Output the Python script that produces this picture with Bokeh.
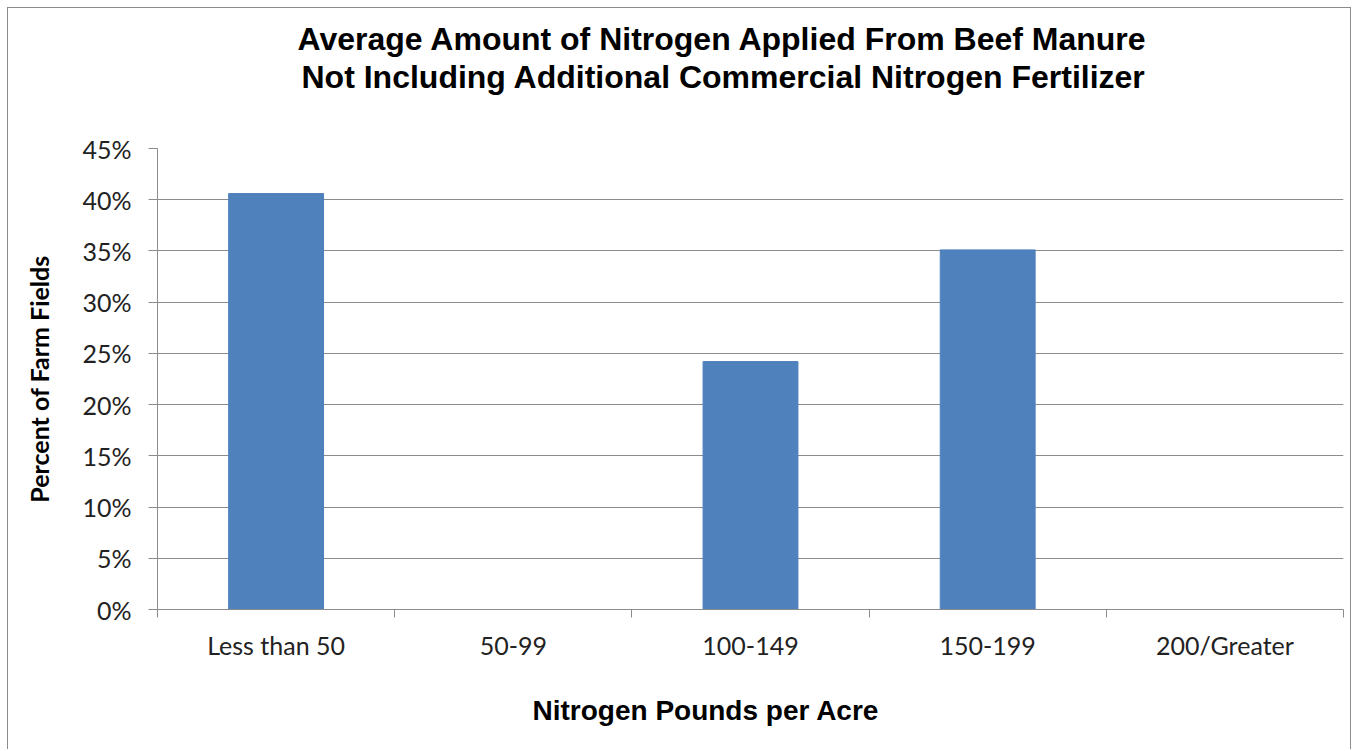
from bokeh.plotting import figure
from bokeh.models import Range1d, FixedTicker, PrintfTickFormatter, Title
from bokeh.embed import file_html
from bokeh.resources import INLINE

# ---- data ----
categories = ["Less than 50", "50-99", "100-149", "150-199", "200/Greater"]
percent_fields = [40.6, 0.0, 24.2, 35.1, 0.0]
y_ticks = [0, 5, 10, 15, 20, 25, 30, 35, 40, 45]
title_lines = ["Average Amount of Nitrogen Applied From Beef Manure",
               "Not Including Additional Commercial Nitrogen Fertilizer"]
x_label = "Nitrogen Pounds per Acre"
y_label = "Percent of Farm Fields"

centers = [i + 0.5 for i in range(len(categories))]
boundaries = list(range(len(categories) + 1))

GRAY = "#8c8c8c"
TICK_FONT = "Lato"
BOLD_FONT = "Liberation Sans"

p = figure(width=1344, height=742, output_backend="svg", toolbar_location=None,
           x_range=Range1d(0, len(categories)), y_range=Range1d(0, 45),
           min_border_left=149, min_border_right=9,
           min_border_top=140, min_border_bottom=141,
           styles={"border": "1px solid #8c8c8c", "border-bottom": "none",
                   "margin": "7px 0 0 7px"})

p.vbar(x=centers, top=percent_fields, width=0.4, fill_color="#4f81bd", line_color="#4f81bd")

p.outline_line_color = None
p.xgrid.visible = False
p.ygrid.grid_line_color = GRAY
p.ygrid.ticker = FixedTicker(ticks=y_ticks)

# y axis
ya = p.yaxis[0]
ya.ticker = FixedTicker(ticks=y_ticks)
ya.formatter = PrintfTickFormatter(format="%d%%")
ya.axis_line_color = GRAY
ya.major_tick_line_color = GRAY
ya.major_tick_out = 9
ya.major_tick_in = 0
ya.minor_tick_line_color = None
ya.major_label_text_font = TICK_FONT
ya.major_label_text_font_size = "25px"
ya.major_label_text_color = "#222222"
ya.major_label_standoff = 17
ya.axis_label = y_label
ya.axis_label_text_font = TICK_FONT
ya.axis_label_text_font_style = "bold"
ya.axis_label_text_font_size = "25px"
ya.axis_label_text_color = "#000000"
ya.axis_label_standoff = 25

# x axis
xa = p.xaxis[0]
xa.ticker = FixedTicker(ticks=centers, minor_ticks=boundaries)
xa.major_label_overrides = {c: name for c, name in zip(centers, categories)}
xa.axis_line_color = GRAY
xa.major_tick_out = 0
xa.major_tick_in = 0
xa.major_tick_line_color = None
xa.minor_tick_line_color = GRAY
xa.minor_tick_out = 8
xa.minor_tick_in = 0
xa.major_label_text_font = TICK_FONT
xa.major_label_text_font_size = "25px"
xa.major_label_text_color = "#222222"
xa.major_label_standoff = 12

# titles: spacer nearest to plot, then line 2, then line 1
spacer_top = Title(text=" ", standoff=51, text_font_size="1px")
t2 = Title(text=title_lines[1], align="left", offset=144, standoff=0,
           text_font=BOLD_FONT, text_font_size="32px", text_font_style="bold",
           text_color="#000000")
t1 = Title(text=title_lines[0], align="left", offset=140, standoff=0,
           text_font=BOLD_FONT, text_font_size="32px", text_font_style="bold",
           text_color="#000000")
p.add_layout(spacer_top, "above")
p.add_layout(t2, "above")
p.add_layout(t1, "above")

# x-axis title: spacer between axis and title
spacer_bottom = Title(text=" ", standoff=27, text_font_size="1px")
tx = Title(text=x_label, align="left", offset=375, standoff=0,
           text_font=BOLD_FONT, text_font_size="28px", text_font_style="bold",
           text_color="#000000")
p.add_layout(spacer_bottom, "below")
p.add_layout(tx, "below")

open("out.html", "w").write(file_html(p, INLINE))
